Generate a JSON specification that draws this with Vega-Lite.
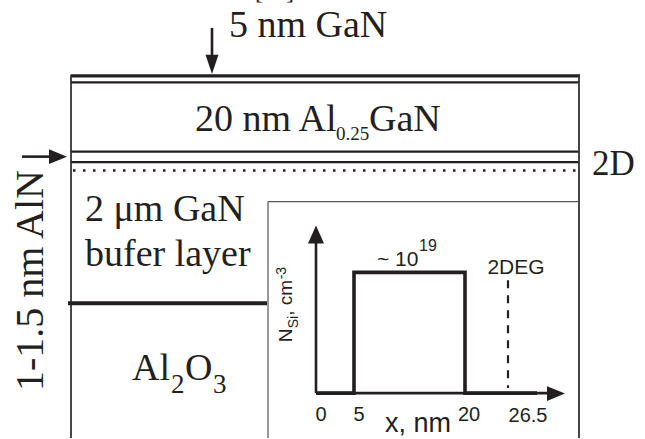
{
  "$schema": "https://vega.github.io/schema/vega-lite/v6.json",
  "width": 645,
  "height": 439,
  "padding": 0,
  "autosize": {"type": "fit", "contains": "padding"},
  "background": "white",
  "config": {"view": {"stroke": null}},
  "datasets": {
    "lines": [
      {"kind": "cap", "x": 71, "x2": 580, "y": 76, "y2": 76},
      {"kind": "thin", "x": 71, "x2": 579, "y": 82.5, "y2": 82.5},
      {"kind": "thin", "x": 71, "x2": 579, "y": 152, "y2": 152},
      {"kind": "thin", "x": 71, "x2": 579, "y": 162.5, "y2": 162.5},
      {"kind": "border", "x": 71, "x2": 71, "y": 75, "y2": 439},
      {"kind": "border", "x": 579, "x2": 579, "y": 75, "y2": 439},
      {"kind": "dotted", "x": 73, "x2": 579, "y": 171, "y2": 171},
      {"kind": "buffer", "x": 68, "x2": 267, "y": 304, "y2": 304},
      {"kind": "inset", "x": 268, "x2": 579, "y": 202, "y2": 202},
      {"kind": "inset", "x": 268, "x2": 268, "y": 202, "y2": 439},
      {"kind": "shaft", "x": 212, "x2": 212, "y": 28, "y2": 58},
      {"kind": "shaft", "x": 22, "x2": 52, "y": 157, "y2": 157},
      {"kind": "shaft", "x": 316, "x2": 316, "y": 240, "y2": 394},
      {"kind": "shaft", "x": 316, "x2": 550, "y": 394, "y2": 394},
      {"kind": "dashed", "x": 508, "x2": 508, "y": 281, "y2": 389}
    ],
    "profile": [
      {"i": 0, "x": 316, "y": 394},
      {"i": 1, "x": 354, "y": 394},
      {"i": 2, "x": 354, "y": 273},
      {"i": 3, "x": 465, "y": 273},
      {"i": 4, "x": 465, "y": 394},
      {"i": 5, "x": 537, "y": 394}
    ],
    "heads": [
      {"dir": "down", "x": 212, "y": 64.5},
      {"dir": "right", "x": 58, "y": 157},
      {"dir": "up", "x": 316, "y": 235},
      {"dir": "right", "x": 556, "y": 394.5}
    ],
    "labels": [
      {"kind": "serif", "x": 229, "y": 37, "label": "5 nm GaN"},
      {"kind": "serif", "x": 195, "y": 131, "label": "20 nm Al"},
      {"kind": "serif", "x": 369, "y": 131, "label": "GaN"},
      {"kind": "serif", "x": 85, "y": 222, "label": "2 μm GaN"},
      {"kind": "serif", "x": 85, "y": 267, "label": "bufer layer"},
      {"kind": "serif", "x": 132, "y": 381, "label": "Al"},
      {"kind": "serif", "x": 185, "y": 381, "label": "O"},
      {"kind": "serif2d", "x": 592, "y": 175, "label": "2D"},
      {"kind": "subsmall", "x": 336, "y": 140, "label": "0.25"},
      {"kind": "sublarge", "x": 171, "y": 394, "label": "2"},
      {"kind": "sublarge", "x": 213, "y": 394, "label": "3"},
      {"kind": "rotserif", "x": 43, "y": 392, "label": "1-1.5 nm AlN"},
      {"kind": "bracket", "x": 255, "y": -1, "label": "[11]"},
      {"kind": "sansl", "x": 377, "y": 267, "label": "~ 10"},
      {"kind": "sansc", "x": 516, "y": 275, "label": "2DEG"},
      {"kind": "sup", "x": 419, "y": 252, "label": "19"},
      {"kind": "tick", "x": 321, "y": 422, "label": "0"},
      {"kind": "tick", "x": 359, "y": 422, "label": "5"},
      {"kind": "tick", "x": 469, "y": 422, "label": "20"},
      {"kind": "tick", "x": 528, "y": 423, "label": "26.5"},
      {"kind": "xlabel", "x": 385, "y": 433, "label": "x, nm"},
      {"kind": "rotsans", "x": 292, "y": 343, "label": "N"},
      {"kind": "rotsans", "x": 292, "y": 316.5, "label": ", cm"},
      {"kind": "rotsub", "x": 298, "y": 329, "label": "Si"},
      {"kind": "rotsub", "x": 286, "y": 280, "label": "-3"}
    ]
  },
  "encoding": {
    "x": {"field": "x", "type": "quantitative", "scale": {"domain": [0, 645], "nice": false, "zero": false}, "axis": null},
    "y": {"field": "y", "type": "quantitative", "scale": {"domain": [0, 439], "nice": false, "zero": false, "reverse": true}, "axis": null}
  },
  "layer": [
    {"data": {"name": "lines"}, "transform": [{"filter": "datum.kind === 'cap'"}],
     "mark": {"type": "rule", "color": "#231f20", "strokeWidth": 3.2},
     "encoding": {"x2": {"field": "x2"}, "y2": {"field": "y2"}}},
    {"data": {"name": "lines"}, "transform": [{"filter": "datum.kind === 'thin'"}],
     "mark": {"type": "rule", "color": "#231f20", "strokeWidth": 2.2},
     "encoding": {"x2": {"field": "x2"}, "y2": {"field": "y2"}}},
    {"data": {"name": "lines"}, "transform": [{"filter": "datum.kind === 'border'"}],
     "mark": {"type": "rule", "color": "#333333", "strokeWidth": 1.8},
     "encoding": {"x2": {"field": "x2"}, "y2": {"field": "y2"}}},
    {"data": {"name": "lines"}, "transform": [{"filter": "datum.kind === 'dotted'"}],
     "mark": {"type": "rule", "color": "#231f20", "strokeWidth": 2.5, "strokeDash": [2.5, 7.5]},
     "encoding": {"x2": {"field": "x2"}, "y2": {"field": "y2"}}},
    {"data": {"name": "lines"}, "transform": [{"filter": "datum.kind === 'buffer'"}],
     "mark": {"type": "rule", "color": "#231f20", "strokeWidth": 4},
     "encoding": {"x2": {"field": "x2"}, "y2": {"field": "y2"}}},
    {"data": {"name": "lines"}, "transform": [{"filter": "datum.kind === 'inset'"}],
     "mark": {"type": "rule", "color": "#555555", "strokeWidth": 1.2},
     "encoding": {"x2": {"field": "x2"}, "y2": {"field": "y2"}}},
    {"data": {"name": "lines"}, "transform": [{"filter": "datum.kind === 'shaft'"}],
     "mark": {"type": "rule", "color": "#231f20", "strokeWidth": 2.6},
     "encoding": {"x2": {"field": "x2"}, "y2": {"field": "y2"}}},
    {"data": {"name": "lines"}, "transform": [{"filter": "datum.kind === 'dashed'"}],
     "mark": {"type": "rule", "color": "#231f20", "strokeWidth": 2.2, "strokeDash": [8, 7]},
     "encoding": {"x2": {"field": "x2"}, "y2": {"field": "y2"}}},
    {"data": {"name": "profile"},
     "mark": {"type": "line", "color": "#231f20", "strokeWidth": 3.6, "strokeJoin": "miter"},
     "encoding": {"order": {"field": "i", "type": "quantitative"}}},
    {"data": {"name": "heads"},
     "mark": {"type": "point", "filled": true, "opacity": 1, "color": "#231f20", "size": 324, "strokeWidth": 0},
     "encoding": {"shape": {"field": "dir", "type": "nominal", "legend": null,
       "scale": {"domain": ["down", "right", "up"], "range": ["M-0.72,-1.06L0.72,-1.06L0,1.06Z", "M-1,-0.83L1,0L-1,0.83Z", "M-0.89,1L0,-1L0.89,1Z"]}}}},
    {"data": {"name": "labels"}, "transform": [{"filter": "datum.kind === 'serif'"}],
     "mark": {"type": "text", "font": "Liberation Serif", "fontSize": 38, "align": "left", "baseline": "alphabetic", "color": "#231f20"},
     "encoding": {"text": {"field": "label"}}},
    {"data": {"name": "labels"}, "transform": [{"filter": "datum.kind === 'serif2d'"}],
     "mark": {"type": "text", "font": "Liberation Serif", "fontSize": 35, "align": "left", "baseline": "alphabetic", "color": "#231f20"},
     "encoding": {"text": {"field": "label"}}},
    {"data": {"name": "labels"}, "transform": [{"filter": "datum.kind === 'subsmall'"}],
     "mark": {"type": "text", "font": "Liberation Serif", "fontSize": 19, "align": "left", "baseline": "alphabetic", "color": "#231f20"},
     "encoding": {"text": {"field": "label"}}},
    {"data": {"name": "labels"}, "transform": [{"filter": "datum.kind === 'sublarge'"}],
     "mark": {"type": "text", "font": "Liberation Serif", "fontSize": 27, "align": "left", "baseline": "alphabetic", "color": "#231f20"},
     "encoding": {"text": {"field": "label"}}},
    {"data": {"name": "labels"}, "transform": [{"filter": "datum.kind === 'rotserif'"}],
     "mark": {"type": "text", "font": "Liberation Serif", "fontSize": 40, "angle": 270, "align": "left", "baseline": "alphabetic", "color": "#231f20"},
     "encoding": {"text": {"field": "label"}}},
    {"data": {"name": "labels"}, "transform": [{"filter": "datum.kind === 'bracket'"}],
     "mark": {"type": "text", "font": "Liberation Serif", "fontSize": 24, "align": "left", "baseline": "alphabetic", "color": "#231f20", "clip": true},
     "encoding": {"text": {"field": "label"}}},
    {"data": {"name": "labels"}, "transform": [{"filter": "datum.kind === 'sansl'"}],
     "mark": {"type": "text", "font": "Liberation Sans", "fontSize": 21, "align": "left", "baseline": "alphabetic", "color": "#231f20"},
     "encoding": {"text": {"field": "label"}}},
    {"data": {"name": "labels"}, "transform": [{"filter": "datum.kind === 'sansc'"}],
     "mark": {"type": "text", "font": "Liberation Sans", "fontSize": 21, "align": "center", "baseline": "alphabetic", "color": "#231f20"},
     "encoding": {"text": {"field": "label"}}},
    {"data": {"name": "labels"}, "transform": [{"filter": "datum.kind === 'sup'"}],
     "mark": {"type": "text", "font": "Liberation Sans", "fontSize": 16, "align": "left", "baseline": "alphabetic", "color": "#231f20"},
     "encoding": {"text": {"field": "label"}}},
    {"data": {"name": "labels"}, "transform": [{"filter": "datum.kind === 'tick'"}],
     "mark": {"type": "text", "font": "Liberation Sans", "fontSize": 20, "align": "center", "baseline": "alphabetic", "color": "#231f20"},
     "encoding": {"text": {"field": "label"}}},
    {"data": {"name": "labels"}, "transform": [{"filter": "datum.kind === 'xlabel'"}],
     "mark": {"type": "text", "font": "Liberation Sans", "fontSize": 27, "align": "left", "baseline": "alphabetic", "color": "#231f20"},
     "encoding": {"text": {"field": "label"}}},
    {"data": {"name": "labels"}, "transform": [{"filter": "datum.kind === 'rotsans'"}],
     "mark": {"type": "text", "font": "Liberation Sans", "fontSize": 19, "angle": 270, "align": "left", "baseline": "alphabetic", "color": "#231f20"},
     "encoding": {"text": {"field": "label"}}},
    {"data": {"name": "labels"}, "transform": [{"filter": "datum.kind === 'rotsub'"}],
     "mark": {"type": "text", "font": "Liberation Sans", "fontSize": 14, "angle": 270, "align": "left", "baseline": "alphabetic", "color": "#231f20"},
     "encoding": {"text": {"field": "label"}}}
  ]
}
